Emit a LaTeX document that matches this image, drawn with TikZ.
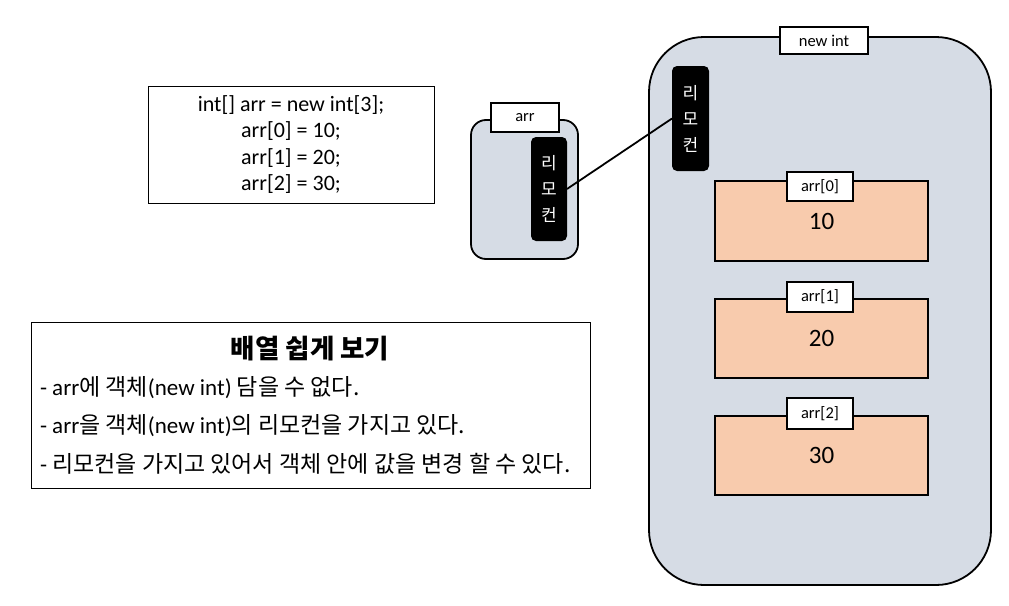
\documentclass[tikz,border=0pt]{standalone}
\usepackage{fontspec}
\setmainfont{Carlito}
\newfontfamily\kr{Noto Sans CJK KR}
\newcommand\K[1]{{\kr #1}}
\definecolor{contfill}{HTML}{D6DCE5}
\definecolor{peach}{HTML}{F8CBAD}
\begin{document}
\begin{tikzpicture}[x=1pt,y=-1pt,
  every node/.style={inner sep=0pt, outer sep=0pt},
  thinbox/.style={draw=black, line width=1pt, fill=white},
  container/.style={draw=black, line width=1.8pt, fill=contfill},
  remote/.style={fill=black, rounded corners=5pt, text=white, align=center,
    font=\kr\fontsize{17}{26}\selectfont},
  tag/.style={draw=black, line width=1.8pt, fill=white, font=\fontsize{16.5}{18}\selectfont},
  cell/.style={draw=black, line width=1.8pt, fill=peach, font=\fontsize{25}{28}\selectfont},
  sumline/.style={anchor=west, font=\fontsize{23}{26}\selectfont},
  link/.style={draw=black, line width=1.8pt}]
\useasboundingbox (0,0) rectangle (1009,605);

% code box
\node[thinbox, minimum width=286pt, minimum height=117pt, align=center,
  font=\fontsize{22}{26.5}\selectfont] (code) at (291,144.5)
  {int[] arr = new int[3];\\arr[0] = 10;\\arr[1] = 20;\\arr[2] = 30;};

% arr container
\node[container, rounded corners=15pt, minimum width=107pt, minimum height=139pt] (arrc) at (524.5,189.5) {};
\node[tag, minimum width=68pt, minimum height=29pt] (arrtag) at (525,117.5) {arr};
\node[remote, minimum width=36pt, minimum height=104pt] (r1) at (549,189) {리\\모\\컨};

% big container
\node[container, rounded corners=55pt, minimum width=342pt, minimum height=548pt] (big) at (820,311) {};
\node[tag, minimum width=88pt, minimum height=27pt] (bigtag) at (824,40.5) {new int};
\node[remote, minimum width=37pt, minimum height=105pt] (r2) at (690.5,118.5) {리\\모\\컨};

% connector
\draw[link] (r1.east) -- (r2.west);

% cells
\node[cell, minimum width=213pt, minimum height=80pt] (c0) at (821.5,221) {10};
\node[tag, minimum width=66pt, minimum height=29pt] (t0) at (820,186.5) {arr[0]};
\node[cell, minimum width=213pt, minimum height=79pt] (c1) at (821.5,338.5) {20};
\node[tag, minimum width=66pt, minimum height=30pt] (t1) at (820,297) {arr[1]};
\node[cell, minimum width=213pt, minimum height=79pt] (c2) at (821.5,455.5) {30};
\node[tag, minimum width=66pt, minimum height=31pt] (t2) at (820,413.5) {arr[2]};

% summary box
\node[thinbox, minimum width=559pt, minimum height=166pt] (sum) at (310.5,405) {};
\node[font=\kr\bfseries\fontsize{26.5}{30}\selectfont] (title) at (310,349) {배열 쉽게 보기};
\node[sumline] (l1) at (40,388)
  {- arr\K{에 객체}(new int) \K{담을 수 없다.}};
\node[sumline] (l2) at (40,426)
  {- arr\K{을 객체}(new int)\K{의 리모컨을 가지고 있다.}};
\node[sumline] (l3) at (40,464)
  {- \K{리모컨을 가지고 있어서 객체 안에 값을 변경 할 수 있다.}};
\end{tikzpicture}
\end{document}
